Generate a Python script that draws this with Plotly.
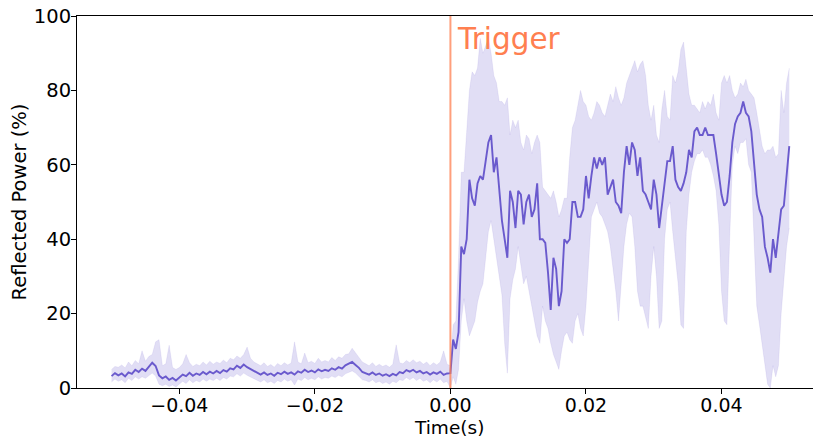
import numpy as np
import plotly.graph_objects as go

# Sampling grids (seconds): before and after the trigger
t_pre = np.linspace(-0.05, -0.0005, 100)
t_post = np.linspace(0.0, 0.05, 126)
trigger_time = 0.0

# Mean reflected power (%) before the trigger
mean_pre = [
    3.2, 4.0, 3.4, 3.9, 3.1, 4.2, 3.8, 4.9, 4.3, 5.2,
    4.6, 5.6, 6.8, 5.9, 3.4, 2.6, 3.1, 2.2, 2.7, 2.0,
    2.9, 3.6, 3.2, 4.1, 3.3, 3.9, 3.5, 4.3, 3.7, 4.4,
    3.9, 4.6, 4.0, 4.8, 4.4, 5.3, 5.0, 6.0, 5.4, 6.3,
    5.6, 5.1, 4.4, 4.0, 3.6, 4.2, 3.5, 3.9, 3.3, 4.1,
    3.7, 4.4, 3.8, 4.2, 3.6, 4.5, 4.1, 4.9, 4.3, 4.7,
    4.2, 5.0, 4.5, 4.9, 4.6, 5.3, 4.9, 5.6, 5.2, 6.1,
    6.5, 7.0, 6.2, 5.4, 4.3, 4.0, 3.6, 4.2, 3.5, 3.9,
    3.3, 3.7, 3.2, 3.8, 3.4, 4.3, 4.0, 4.8, 4.4, 4.9,
    4.2, 4.6, 3.9, 4.3, 3.6, 4.2, 3.8, 4.4, 3.5, 3.9,
]
upper_pre = [
    5.0, 5.8, 5.6, 6.2, 5.4, 7.0, 6.0, 7.4, 6.5, 10.0,
    7.2, 8.5, 9.0, 12.4, 13.0, 6.0, 6.5, 11.5, 5.5, 5.0,
    5.5, 6.5, 9.0, 6.8, 5.8, 6.4, 6.0, 7.0, 6.2, 7.2,
    6.4, 7.0, 6.6, 7.5, 6.8, 8.0, 7.6, 8.6, 8.0, 9.0,
    11.0, 8.0, 7.0, 6.4, 6.0, 6.8, 5.8, 6.3, 5.6, 6.6,
    6.0, 6.8, 6.2, 6.7, 12.4, 7.0, 6.5, 9.4, 6.8, 7.2,
    6.6, 8.0, 7.0, 7.4, 7.0, 8.2, 7.4, 8.4, 8.0, 9.0,
    9.2, 10.7, 9.5, 8.0, 7.0, 6.5, 6.0, 6.8, 5.8, 6.4,
    5.8, 6.2, 5.6, 6.4, 11.6, 6.8, 6.5, 7.4, 6.8, 7.6,
    6.8, 7.2, 6.4, 7.0, 6.0, 6.8, 6.2, 7.0, 10.0, 6.4,
]
lower_pre = [
    1.6, 2.4, 1.8, 2.2, 1.4, 2.6, 2.0, 3.0, 2.4, 3.0,
    2.6, 3.4, 4.0, 3.2, 1.0, 0.6, 1.0, 0.4, 0.8, 0.3,
    1.0, 1.8, 1.2, 2.2, 1.4, 2.0, 1.6, 2.4, 1.8, 2.4,
    2.0, 2.6, 2.0, 2.8, 2.4, 3.2, 3.0, 3.8, 3.2, 4.0,
    3.4, 3.0, 2.4, 2.0, 1.6, 2.2, 1.4, 1.8, 1.2, 2.0,
    1.6, 2.4, 1.8, 2.2, 0.8, 2.4, 2.0, 2.8, 2.2, 2.6,
    2.2, 3.0, 2.4, 2.8, 2.6, 3.2, 2.8, 3.4, 3.0, 3.8,
    4.2, 4.6, 4.0, 3.2, 2.2, 2.0, 1.6, 2.2, 1.4, 1.8,
    1.2, 1.6, 1.0, 1.8, 1.4, 2.2, 2.0, 2.8, 2.2, 2.8,
    2.0, 2.6, 1.8, 2.2, 1.4, 2.2, 1.6, 2.4, 1.4, 1.8,
]

# Mean reflected power (%) after the trigger
mean_post = [
    4, 13, 10.5, 15, 38, 36, 40, 56, 51, 49,
    55, 57, 56, 61, 66, 68, 58, 62, 54, 45,
    40, 35, 53, 50, 43, 53, 52, 44, 50, 52,
    46, 48, 55, 40, 40, 39, 31, 21, 35, 32,
    22, 26, 40, 39, 40, 50, 50, 46, 46, 48,
    57, 51, 57, 62, 59, 62, 60, 62, 52, 54,
    56, 50, 49, 47, 58, 65, 60, 66, 64, 57,
    62, 53, 52, 50, 48, 56, 52, 43, 49, 56,
    61, 61, 65, 56, 54, 53, 55, 58, 64, 62,
    69, 70, 68, 68, 70, 68, 68, 68, 63, 57,
    52, 49, 50, 57, 66, 71, 73, 74, 77, 74,
    73, 69, 60, 52, 48, 46, 38, 35, 31, 40,
    35, 42, 48, 49, 58, 65,
]
upper_post = [
    6, 17, 18, 35, 58, 58, 70, 80, 85, 84,
    86, 94, 90, 92, 94, 90, 84, 82, 77, 77,
    76, 78, 68, 72, 70, 72, 66, 64, 68, 67,
    63, 66, 68, 66, 54, 53, 52, 51, 53, 50,
    46, 48, 51, 51, 62, 70, 72, 76, 80, 77,
    76, 73, 72, 74, 77, 76, 74, 73, 76, 79,
    77, 81, 78, 76, 78, 82, 84, 86, 88, 85,
    87, 88, 84, 76, 72, 76, 68, 66, 75, 80,
    73, 72, 84, 82, 85, 91, 93, 86, 79, 76,
    76, 75, 74, 77, 75, 77, 76, 79, 74, 72,
    82, 84, 82, 84, 80, 78, 79, 82, 81, 83,
    80, 79, 78, 74, 70, 65, 63, 64, 64, 65,
    62, 63, 80, 74, 82, 86,
]
lower_post = [
    0, 3, 1, 5, 18, 24, 18, 14, 16, 18,
    23, 26, 28, 36, 42, 45, 40, 34, 30, 25,
    12, 4, 24, 29, 32, 38, 33, 28, 30, 26,
    22, 18, 14, 12, 22, 18, 16, 12, 9, 7,
    5, 10, 14, 15, 13, 12, 18, 20, 16, 14,
    22, 34, 46, 48, 50, 47, 46, 44, 42, 38,
    32, 26, 18, 28, 38, 44, 47, 46, 38, 26,
    22, 22, 19, 16, 30, 38, 30, 16, 18, 40,
    48, 50, 42, 34, 28, 17, 16, 42, 52, 58,
    61, 63, 63, 64, 62, 62, 60, 57, 53, 44,
    26, 18, 17, 40, 60, 65, 63, 66, 66, 67,
    60, 58, 40, 22, 17, 12, 6, 1, 0, 6,
    3, 6, 20, 30, 38, 43,
]

time = np.concatenate([t_pre, t_post])
mean = mean_pre + mean_post
upper = upper_pre + upper_post
lower = lower_pre + lower_post

line_color = "rgb(106,90,205)"
band_color = "rgba(106,90,205,0.2)"
edge_color = "rgba(106,90,205,0.12)"
trigger_color = "rgba(255,127,80,0.75)"
font_family = "DejaVu Sans"
label_size = 19.5
xlabel_size = 19

fig = go.Figure()
fig.add_trace(go.Scatter(x=time, y=lower, mode="lines",
                         line=dict(color=edge_color, width=0.8),
                         showlegend=False, hoverinfo="skip"))
fig.add_trace(go.Scatter(x=time, y=upper, mode="lines", fill="tonexty",
                         fillcolor=band_color,
                         line=dict(color=edge_color, width=0.8),
                         showlegend=False, hoverinfo="skip"))
fig.add_trace(go.Scatter(x=time, y=mean, mode="lines",
                         line=dict(color=line_color, width=1.9),
                         showlegend=False))

fig.add_shape(type="line", xref="x", yref="paper",
              x0=trigger_time, x1=trigger_time, y0=0, y1=1,
              line=dict(color=trigger_color, width=2), layer="above")
fig.add_annotation(x=trigger_time + 0.0007, y=93.9, xref="x", yref="y",
                   text="Trigger", showarrow=False, xanchor="left",
                   yanchor="middle",
                   font=dict(family=font_family, size=29.5, color="rgb(255,127,80)"))

# x-axis title, placed just under the tick labels
fig.add_annotation(x=0.505, y=0, xref="paper", yref="paper",
                   text="Time(s)", showarrow=False, xanchor="center",
                   yanchor="bottom", yshift=-51, borderpad=0,
                   font=dict(family=font_family, size=18.5, color="black"))

axis_common = dict(
    showgrid=False, zeroline=False, showline=True, linecolor="black",
    linewidth=1, ticks="outside", ticklen=5, tickwidth=1, tickcolor="black",
)

fig.update_xaxes(range=[-0.0551, 0.0535], tickvals=[-0.04, -0.02, 0.0, 0.02, 0.04],
                 tickformat=".2f", mirror=True, ticklabelstandoff=-5,
                 tickfont=dict(family=font_family, size=xlabel_size, color="black"),
                 **axis_common)
fig.update_yaxes(range=[0, 100], tickvals=[0, 20, 40, 60, 80, 100],
                 ticklabelstandoff=-4,
                 tickfont=dict(family=font_family, size=label_size, color="black"),
                 title=dict(text="Reflected Power (%)", standoff=2,
                            font=dict(family=font_family, size=label_size, color="black")),
                 **axis_common)

fig.update_layout(
    width=813, height=437,
    margin=dict(l=77, r=0, t=16, b=49, autoexpand=False),
    plot_bgcolor="white", paper_bgcolor="white",
    font=dict(family=font_family),
)

fig.write_html("out.html")
